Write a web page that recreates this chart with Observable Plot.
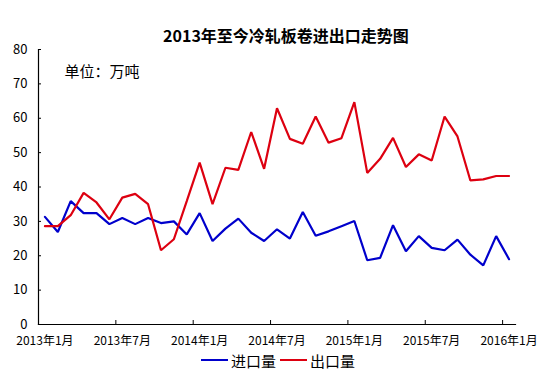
<!DOCTYPE html>
<html>
<head>
<meta charset="utf-8">
<script src="https://cdn.jsdelivr.net/npm/d3@7"></script>
<script src="https://cdn.jsdelivr.net/npm/@observablehq/plot@0.6"></script>
<style>
  html, body { margin: 0; padding: 0; background: #fff; }
  body { width: 554px; height: 375px; overflow: hidden; font-family: "Noto Sans CJK SC", sans-serif; position: relative; }
  #titlebox { height: 36px; }
  #title { position: absolute; top: 24px; left: 18px; width: 536px; text-align: center; font-weight: bold; font-size: 16px; line-height: 22px; color: #000; z-index: 2; }
  #chart svg { display: block; }
  #legend { display: flex; justify-content: center; align-items: center; height: 20px; font-size: 15px; color: #000; padding-left: 2px; margin-top: 2px; }
  .sw { display: inline-block; width: 27px; height: 2px; margin-right: 3px; }
  .item { display: flex; align-items: center; margin: 0 2px; }
</style>
</head>
<body>
<div id="titlebox"></div>
<div id="title">2013年至今冷轧板卷进出口走势图</div>
<div id="chart"></div>
<div id="legend"></div>
<script>
const months = [
  "2013年1月","2013年2月","2013年3月","2013年4月","2013年5月","2013年6月",
  "2013年7月","2013年8月","2013年9月","2013年10月","2013年11月","2013年12月",
  "2014年1月","2014年2月","2014年3月","2014年4月","2014年5月","2014年6月",
  "2014年7月","2014年8月","2014年9月","2014年10月","2014年11月","2014年12月",
  "2015年1月","2015年2月","2015年3月","2015年4月","2015年5月","2015年6月",
  "2015年7月","2015年8月","2015年9月","2015年10月","2015年11月","2015年12月",
  "2016年1月"
];
const imports = [
  31.3, 26.9, 35.9, 32.4, 32.4, 29.2, 31.0, 29.2, 31.0, 29.5, 30.0, 26.2,
  32.4, 24.3, 27.9, 30.8, 26.7, 24.3, 27.7, 25.0, 32.7, 25.8, 27.1, 28.6,
  30.1, 18.7, 19.4, 28.9, 21.3, 25.7, 22.3, 21.6, 24.7, 20.3, 17.2, 25.7,
  19.0
];
const exports_ = [
  28.6, 28.6, 31.8, 38.3, 35.5, 30.6, 36.9, 38.0, 35.0, 21.6, 24.8, 35.9,
  47.1, 35.0, 45.6, 45.0, 56.0, 45.3, 62.9, 54.0, 52.6, 60.5, 52.9, 54.2,
  64.7, 44.1, 48.2, 54.3, 45.8, 49.5, 47.7, 60.5, 54.7, 41.9, 42.2, 43.2,
  43.2
];
const yTicks = [0, 10, 20, 30, 40, 50, 60, 70, 80];
const seriesNames = ["进口量", "出口量"];
const seriesColors = ["#0000CC", "#DD0010"];
const unitLabel = "单位：万吨";

const labelIdx = months.map((m, i) => i).filter(i => /年(1|7)月$/.test(months[i]));
const boundaries = labelIdx.filter(i => i > 0).map(i => i - 0.5);

const rows = [];
months.forEach((m, i) => {
  rows.push({i, month: m, series: seriesNames[0], value: imports[i]});
  rows.push({i, month: m, series: seriesNames[1], value: exports_[i]});
});

const font = "'Noto Sans CJK SC', sans-serif";
const plot = Plot.plot({
  width: 554,
  height: 312,
  marginLeft: 38,
  marginRight: 39,
  marginTop: 13,
  marginBottom: 24,
  style: {fontFamily: font, fontSize: "12px", color: "#000", background: "#fff", overflow: "visible"},
  x: {domain: [-0.5, months.length - 0.5]},
  y: {domain: [0, 80]},
  color: {domain: seriesNames, range: seriesColors},
  marks: [
    Plot.frame({anchor: "left", stroke: "#000", strokeWidth: 1.2}),
    Plot.frame({anchor: "bottom", stroke: "#000", strokeWidth: 1.2}),
    Plot.axisY({ticks: yTicks, tickSize: -3, tickPadding: 14, label: null, fontSize: 13, stroke: "#000"}),
    Plot.axisX({ticks: boundaries, tickSize: -4, tickFormat: () => "", label: null, stroke: "#000"}),
    Plot.axisX({ticks: labelIdx, tickSize: 0, tickPadding: 12, tickFormat: i => months[i], label: null, fontSize: 12}),
    Plot.line(rows, {x: "i", y: "value", z: "series", stroke: "series", strokeWidth: 2.2, strokeLinejoin: "miter"}),
    Plot.text([unitLabel], {frameAnchor: "top-left", textAnchor: "start", lineAnchor: "middle", dx: 26, dy: 23, fontSize: 15, fill: "#000"})
  ]
});
document.getElementById("chart").appendChild(plot);

const legend = document.getElementById("legend");
seriesNames.forEach((n, k) => {
  const it = document.createElement("span");
  it.className = "item";
  const sw = document.createElement("span");
  sw.className = "sw";
  sw.style.background = seriesColors[k];
  const t = document.createElement("span");
  t.textContent = n;
  it.appendChild(sw);
  it.appendChild(t);
  legend.appendChild(it);
});
</script>
</body>
</html>
